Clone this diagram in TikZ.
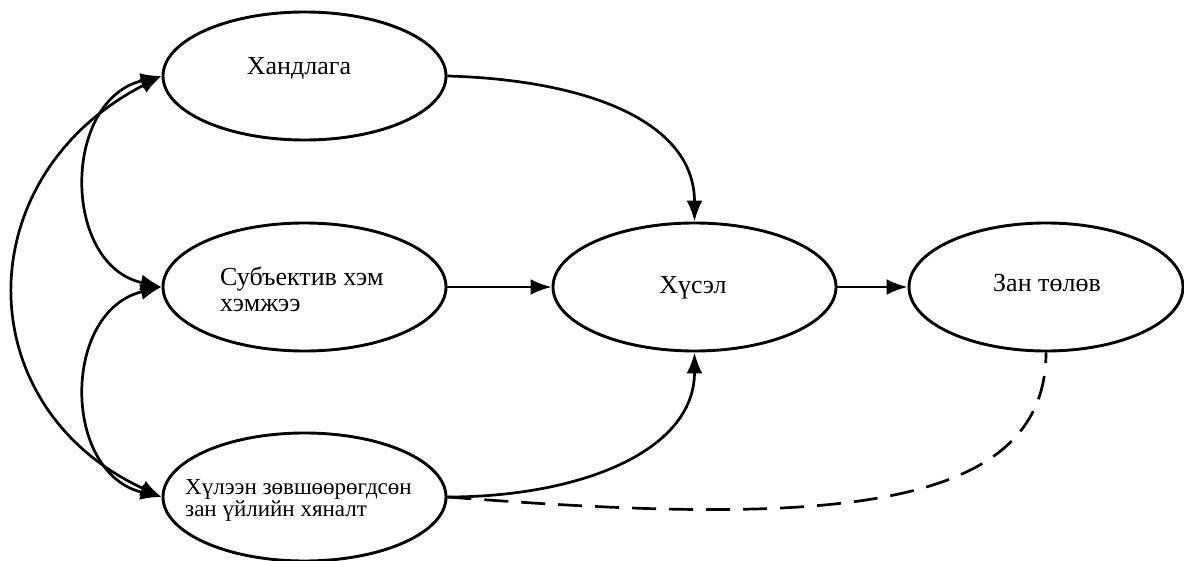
\documentclass[tikz,border=0pt]{standalone}
\usepackage{fontspec}
\setmainfont{Liberation Serif}
\usetikzlibrary{arrows.meta,shapes.geometric}
\begin{document}
\begin{tikzpicture}[x=1pt,y=1pt,
  ell/.style={draw, ellipse, line width=2.9pt, minimum width=283pt, minimum height=128pt, inner sep=0pt},
  lbl/.style={font=\fontsize{26}{26}\selectfont, align=left, inner sep=0pt},
  con/.style={line width=2.7pt, -{Latex[length=21pt,width=16pt]}},
  bicon/.style={line width=2.7pt, {Latex[length=21pt,width=16pt]}-{Latex[length=21pt,width=16pt]}},
  dashcon/.style={line width=2.7pt, dash pattern=on 24pt off 13pt},
]
\useasboundingbox (0,0) rectangle (1184,-561);
\node[ell] (hand) at (304.5,-76) {};
\node[ell] (subj) at (304.5,-287) {};
\node[ell] (hul) at (304.5,-497) {};
\node[ell] (hus) at (694.5,-287) {};
\node[ell, minimum width=274pt] (zan) at (1046,-287) {};

\node[lbl, anchor=base] (thand) at (299,-75) {Хандлага};
\node[lbl, anchor=west] (tsubj) at (220,-289) {Субъектив хэм\\хэмжээ};
\node[lbl, anchor=west, font=\fontsize{23}{22}\selectfont] (thul) at (185,-500) {Хүлээн зөвшөөрөгдсөн\\зан үйлийн хяналт};
\node[lbl, anchor=base] (thus) at (693,-294) {Хүсэл};
\node[lbl, anchor=base] (tzan) at (1047,-292) {Зан төлөв};

\draw[con] (subj.east) -- (hus.west);
\draw[con] (hus.east) -- (zan.west);
\draw[con] (hand.east) .. controls +(140,-4) and +(0,100) .. (hus.north);
\draw[con] (hul.east) .. controls +(130,0) and +(0,-100) .. (hus.south);
\draw[dashcon] (hul.east) .. controls +(353,-27) and +(0,-168) .. (zan.south);
\draw[bicon] (hand.west) .. controls +(-100,-24) and +(-100,22) .. (subj.west);
\draw[bicon] (subj.west) .. controls +(-100,-24) and +(-100,24) .. (hul.west);
\draw[bicon] (hand.west) .. controls +(-195,-100) and +(-195,90) .. (hul.west);
\end{tikzpicture}
\end{document}
